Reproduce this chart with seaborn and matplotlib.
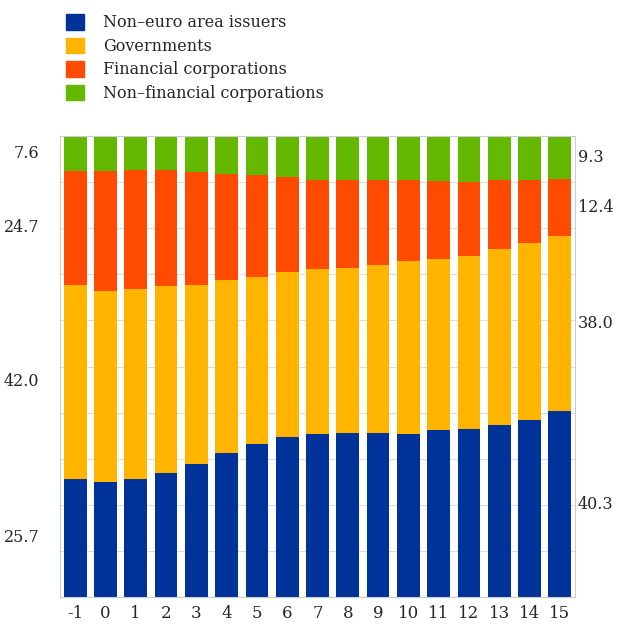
import numpy as np
import matplotlib.pyplot as plt
import seaborn as sns
import pandas as pd

periods = ["-1", "0", "1", "2", "3", "4", "5", "6", "7", "8", "9", "10", "11", "12", "13", "14", "15"]
non_euro = [25.7, 24.9, 25.6, 26.9, 28.9, 31.2, 33.2, 34.7, 35.4, 35.6, 35.6, 35.4, 36.2, 36.4, 37.3, 38.4, 40.3]
governments = [42.0, 41.4, 41.2, 40.6, 38.8, 37.5, 36.2, 35.8, 35.8, 35.8, 36.4, 37.5, 37.1, 37.5, 38.2, 38.4, 38.0]
financial = [24.7, 26.0, 25.8, 25.2, 24.5, 23.0, 22.1, 20.6, 19.3, 19.1, 18.4, 17.6, 16.9, 16.1, 15.0, 13.7, 12.4]
non_financial = [7.6, 7.6, 7.4, 7.4, 7.8, 8.2, 8.5, 8.9, 9.5, 9.5, 9.5, 9.5, 9.8, 10.0, 9.5, 9.5, 9.3]

series = ["Non–euro area issuers", "Governments", "Financial corporations", "Non–financial corporations"]
colors = ["#003399", "#FFB400", "#FF4B00", "#65B800"]

df = pd.DataFrame({"period": periods, series[0]: non_euro, series[1]: governments,
                   series[2]: financial, series[3]: non_financial})
vals = df[series].to_numpy(dtype=float)
vals = vals / vals.sum(axis=1, keepdims=True) * 100

sns.set_style("white")
plt.rcParams["font.family"] = ["DejaVu Serif"]

fig = plt.figure(figsize=(6.18, 6.33), dpi=100)
ax = fig.add_axes([60 / 618, 36 / 633, 515 / 618, 461 / 633])
ax.yaxis.grid(True, color="#dddddd", linewidth=0.8)
ax.set_axisbelow(True)

bottom = np.zeros(len(periods))
for i, name in enumerate(series):
    sns.barplot(x=df["period"], y=vals[:, i], bottom=bottom, color=colors[i], width=0.75,
                label=name, ax=ax, edgecolor="none", saturation=1, legend=False)
    # segment labels for first and last bars
    mid0 = bottom[0] + vals[0, i] / 2
    mid1 = bottom[-1] + vals[-1, i] / 2
    ax.text(-0.04, mid0, f"{df[name].iloc[0]:.1f}", transform=ax.get_yaxis_transform(),
            ha="right", va="center", fontsize=11.5)
    ax.text(1.005, mid1, f"{df[name].iloc[-1]:.1f}", transform=ax.get_yaxis_transform(),
            ha="left", va="center", fontsize=11.5)
    bottom += vals[:, i]

if ax.get_legend() is not None:
    ax.get_legend().remove()

ax.set_ylim(0, 100)
ax.set_xlim(-0.5, len(periods) - 0.5)
ax.set_yticks(np.arange(0, 101, 10))
ax.set_yticklabels([])
ax.tick_params(axis="y", length=0)
ax.tick_params(axis="x", labelsize=12, length=0, pad=6)
ax.set_xlabel("")
ax.set_ylabel("")
for s in ax.spines.values():
    s.set_color("#cccccc")
    s.set_linewidth(0.8)

handles = [plt.Rectangle((0, 0), 1, 1, color=c) for c in colors]
fig.legend(handles, series, loc="upper left", bbox_to_anchor=(52 / 618, 1.0),
           frameon=False, fontsize=11.5, handlelength=1.1, handleheight=1.1,
           labelspacing=0.4, handletextpad=1.2)

fig.savefig("out.png", dpi=100)
